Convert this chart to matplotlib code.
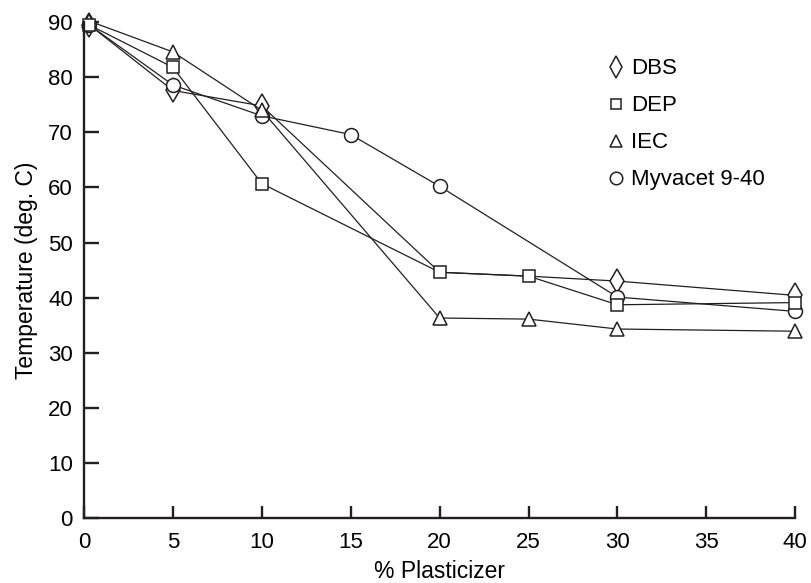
import matplotlib
matplotlib.use("Agg")
import matplotlib.pyplot as plt

plt.rcParams['font.family'] = ['Liberation Sans', 'DejaVu Sans']

# % plasticizer
x_vals = [0.3, 5, 10, 15, 20, 25, 30, 40]

dbs_x = [0.3, 5, 10, 20, 25, 30, 40]
dbs_y = [89.5, 77.6, 74.8, 44.6, 43.9, 43.0, 40.4]

dep_x = [0.3, 5, 10, 20, 25, 30, 40]
dep_y = [89.5, 81.8, 60.7, 44.6, 43.9, 38.7, 39.1]

iec_x = [0.3, 5, 10, 20, 25, 30, 40]
iec_y = [90.2, 84.6, 74.0, 36.3, 36.1, 34.3, 33.9]

myv_x = [0.3, 5, 10, 15, 20, 30, 40]
myv_y = [89.5, 78.6, 73.0, 69.6, 60.2, 40.1, 37.5]

x_ticks = [0, 5, 10, 15, 20, 25, 30, 35, 40]
y_ticks = [0, 10, 20, 30, 40, 50, 60, 70, 80, 90]

ink = '#231f20'

fig = plt.figure(figsize=(8.12, 5.83), dpi=100)
ax = fig.add_axes([0.1034, 0.1115, 0.876, 0.8505])

style = dict(color=ink, lw=0.9, mfc='white', mec=ink, mew=1.1, clip_on=False)

# DBS hides behind the DEP squares at 20 and 25
ax.plot(dbs_x, dbs_y, marker='d', ms=12, markevery=[0, 1, 2, 5, 6], label='DBS', **style)
ax.plot(myv_x, myv_y, marker='o', ms=10, label='Myvacet 9-40', **style)
ax.plot(iec_x, iec_y, marker='^', ms=10, label='IEC', **style)
ax.plot(dep_x, dep_y, marker='s', ms=8.5, label='DEP', **style)

ax.set_xlim(0, 40)
ax.set_ylim(0, 90)
ax.set_xticks(x_ticks)
ax.set_yticks(y_ticks)

for s in ['top', 'right']:
    ax.spines[s].set_visible(False)
for s in ['left', 'bottom']:
    ax.spines[s].set_linewidth(1.7)
    ax.spines[s].set_color(ink)

ax.tick_params(axis='y', direction='in', length=11, width=1.7, color=ink, labelsize=16, pad=8)
ax.tick_params(axis='x', direction='in', length=8.5, width=1.7, color=ink, labelsize=16, pad=10)

ax.set_xlabel('% Plasticizer', fontsize=16.5, labelpad=5)
ax.set_ylabel('Temperature (deg. C)', fontsize=16.5, labelpad=7)

handles, labels = ax.get_legend_handles_labels()
order = ['DBS', 'DEP', 'IEC', 'Myvacet 9-40']
hmap = dict(zip(labels, handles))
leg = ax.legend([hmap[k] for k in order], order, loc='upper left',
                bbox_to_anchor=(0.735, 0.945), frameon=False, fontsize=16,
                handlelength=0, handletextpad=0.7, labelspacing=0.72,
                markerscale=0.9, borderaxespad=0)

fig.savefig('out.png', dpi=100)
